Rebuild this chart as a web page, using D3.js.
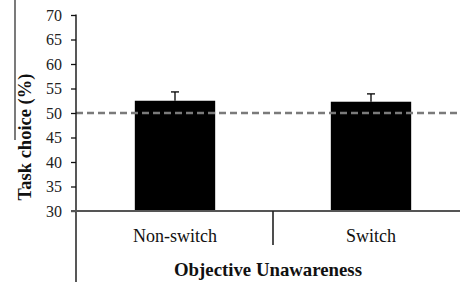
<!DOCTYPE html>
<html>
<head>
<meta charset="utf-8">
<script src="https://cdn.jsdelivr.net/npm/d3@7"></script>
<style>
  body { margin: 0; background: #fff; }
</style>
</head>
<body>
<script>
const categories = ["Non-switch", "Switch"];
const means = [52.5, 52.3];
const errors = [1.8, 1.6];
const yTicks = [30, 35, 40, 45, 50, 55, 60, 65, 70];
const chance = 50;

const W = 460, H = 282;
const margin = { left: 76, top: 15, right: -9, bottom: 71 };
const serif = "Liberation Serif, DejaVu Serif, serif";

const svg = d3.select("body").append("svg")
  .attr("width", W)
  .attr("height", H)
  .style("font-family", serif);

const y = d3.scaleLinear()
  .domain([30, 70])
  .range([H - margin.bottom, margin.top]);

const x = d3.scaleBand()
  .domain(categories)
  .range([margin.left + 1, W - margin.right])
  .paddingInner(0.59)
  .paddingOuter(0.295);

// stray crop line on the left edge
svg.append("line")
  .attr("x1", 15).attr("x2", 15)
  .attr("y1", 0).attr("y2", 140)
  .attr("stroke", "#222").attr("stroke-width", 1.2);

// bars
svg.selectAll("rect.bar")
  .data(categories)
  .enter().append("rect")
    .attr("class", "bar")
    .attr("x", d => x(d))
    .attr("width", x.bandwidth())
    .attr("y", (d, i) => y(means[i]))
    .attr("height", (d, i) => y(30) - y(means[i]))
    .attr("fill", "#000");

// error bars (upper only)
const eb = svg.selectAll("g.err")
  .data(categories)
  .enter().append("g")
    .attr("class", "err");
eb.append("line")
  .attr("x1", d => x(d) + x.bandwidth() / 2)
  .attr("x2", d => x(d) + x.bandwidth() / 2)
  .attr("y1", (d, i) => y(means[i]))
  .attr("y2", (d, i) => y(means[i] + errors[i]))
  .attr("stroke", "#000").attr("stroke-width", 1.3);
eb.append("line")
  .attr("x1", d => x(d) + x.bandwidth() / 2 - 4)
  .attr("x2", d => x(d) + x.bandwidth() / 2 + 4)
  .attr("y1", (d, i) => y(means[i] + errors[i]))
  .attr("y2", (d, i) => y(means[i] + errors[i]))
  .attr("stroke", "#000").attr("stroke-width", 1.3);

// chance line
svg.append("line")
  .attr("x1", margin.left).attr("x2", W)
  .attr("y1", y(chance)).attr("y2", y(chance))
  .attr("stroke", "#7a7a7a").attr("stroke-width", 2.4)
  .attr("stroke-dasharray", "7,4");

// y axis
const yAxis = svg.append("g")
  .attr("transform", `translate(${margin.left},0)`)
  .call(d3.axisLeft(y).tickValues(yTicks).tickSize(5).tickSizeOuter(0).tickPadding(9));
yAxis.attr("font-family", null).attr("font-size", null);
yAxis.select(".domain").remove();
yAxis.selectAll(".tick line").attr("stroke", "#111").attr("stroke-width", 1.3);
yAxis.selectAll("text")
  .attr("fill", "#222")
  .style("font-family", serif)
  .style("font-size", "16px");
svg.append("line")
  .attr("x1", margin.left).attr("x2", margin.left)
  .attr("y1", y(70) - 0.5).attr("y2", H)
  .attr("stroke", "#111").attr("stroke-width", 1.4);

// x axis line
svg.append("line")
  .attr("x1", margin.left - 5).attr("x2", W)
  .attr("y1", y(30)).attr("y2", y(30))
  .attr("stroke", "#555").attr("stroke-width", 1.8);

// category divider
const xMid = (x(categories[0]) + x.bandwidth() + x(categories[1])) / 2;
svg.append("line")
  .attr("x1", xMid).attr("x2", xMid)
  .attr("y1", y(30)).attr("y2", y(30) + 34)
  .attr("stroke", "#222").attr("stroke-width", 1.6);

// category labels
svg.selectAll("text.cat")
  .data(categories)
  .enter().append("text")
    .attr("class", "cat")
    .attr("x", d => x(d) + x.bandwidth() / 2)
    .attr("y", y(30) + 31)
    .attr("text-anchor", "middle")
    .style("font-family", serif)
    .style("font-size", "18px")
    .attr("fill", "#111")
    .text(d => d);

// x title
svg.append("text")
  .attr("x", xMid - 5)
  .attr("y", 276)
  .attr("text-anchor", "middle")
  .style("font-family", serif)
  .style("font-size", "18.8px")
  .style("font-weight", "bold")
  .attr("fill", "#111")
  .text("Objective Unawareness");

// y title
svg.append("text")
  .attr("transform", `translate(31,137) rotate(-90)`)
  .attr("text-anchor", "middle")
  .style("font-family", serif)
  .style("font-size", "18.5px")
  .style("font-weight", "bold")
  .attr("fill", "#111")
  .text("Task choice (%)");
</script>
</body>
</html>
